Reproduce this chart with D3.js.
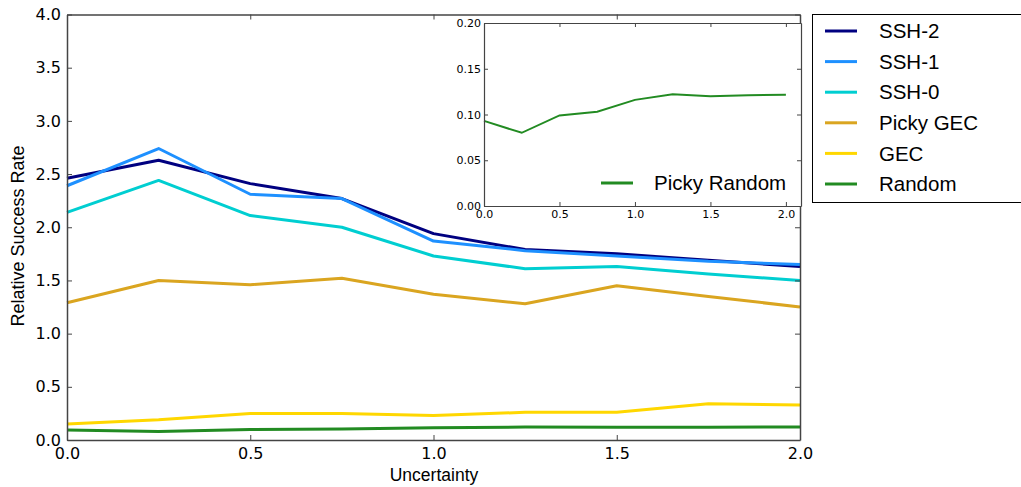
<!DOCTYPE html>
<html>
<head>
<meta charset="utf-8">
<script src="https://d3js.org/d3.v7.min.js"></script>
<style>
body { margin: 0; background: #fff; }
svg text { fill: #000; }
</style>
</head>
<body>
<div id="chart"></div>
<script>
// uncertainty levels on the x axis
var uncertainty = [0, 0.25, 0.5, 0.75, 1.0, 1.25, 1.5, 1.75, 2.0];

var ssh2 = [2.46, 2.63, 2.41, 2.27, 1.94, 1.79, 1.75, 1.69, 1.63];
var ssh1 = [2.39, 2.74, 2.31, 2.27, 1.87, 1.78, 1.73, 1.68, 1.65];
var ssh0 = [2.14, 2.44, 2.11, 2.00, 1.73, 1.61, 1.63, 1.56, 1.50];
var pickyGec = [1.29, 1.50, 1.46, 1.52, 1.37, 1.28, 1.45, 1.35, 1.25];
var gec = [0.15, 0.19, 0.25, 0.25, 0.23, 0.26, 0.26, 0.34, 0.33];
var random = [0.093, 0.081, 0.099, 0.104, 0.116, 0.122, 0.120, 0.121, 0.122];
var pickyRandom = [0.093, 0.080, 0.099, 0.103, 0.116, 0.122, 0.120, 0.121, 0.1215];

var seriesNames = ["SSH-2", "SSH-1", "SSH-0", "Picky GEC", "GEC", "Random"];
var seriesValues = [ssh2, ssh1, ssh0, pickyGec, gec, random];
var seriesColors = ["#000080", "#1e90ff", "#00ced1", "#daa520", "#ffd700", "#228b22"];

var yTicks = [0, 0.5, 1.0, 1.5, 2.0, 2.5, 3.0, 3.5, 4.0];
var xTicks = [0, 0.5, 1.0, 1.5, 2.0];
var insetYTicks = [0, 0.05, 0.10, 0.15, 0.20];

var tickFont = "'DejaVu Sans', sans-serif";
var labelFont = "'Liberation Sans', Arial, sans-serif";
var spine = "#444";

var svg = d3.select("#chart").append("svg")
    .attr("width", 1021)
    .attr("height", 487);

// main axes
var x = d3.scaleLinear().domain([0, 2.0]).range([67, 800]);
var y = d3.scaleLinear().domain([0, 4.0]).range([440, 14.5]);

var main = svg.append("g");

var line = function(vals, xs, ys) {
    return d3.line()
        .x(function(d, i) { return xs(uncertainty[i]); })
        .y(function(d) { return ys(d); })(vals);
};

main.selectAll("path.series")
    .data(seriesValues)
    .enter()
    .append("path")
    .attr("class", "series")
    .attr("d", function(d) { return line(d, x, y); })
    .attr("fill", "none")
    .attr("stroke", function(d, i) { return seriesColors[i]; })
    .attr("stroke-width", 3)
    .attr("stroke-linejoin", "round");

// inward ticks on all four sides (matplotlib classic look)
main.append("g")
    .attr("transform", "translate(0,440)")
    .call(d3.axisBottom(x).tickValues(xTicks).tickSizeInner(-5).tickSizeOuter(0).tickPadding(8).tickFormat(d3.format(".1f")))
    .call(function(g) {
        g.select(".domain").attr("stroke", spine).attr("stroke-width", 1.5);
        g.selectAll(".tick line").attr("stroke", spine);
        g.selectAll("text").attr("font-family", tickFont).attr("font-size", 16);
    });
main.append("g")
    .attr("transform", "translate(0,14.5)")
    .call(d3.axisTop(x).tickValues(xTicks).tickSizeInner(-5).tickSizeOuter(0).tickFormat(""))
    .call(function(g) {
        g.select(".domain").attr("stroke", spine).attr("stroke-width", 1.5);
        g.selectAll(".tick line").attr("stroke", spine);
    });
main.append("g")
    .attr("transform", "translate(67,0)")
    .call(d3.axisLeft(y).tickValues(yTicks).tickSizeInner(-5).tickSizeOuter(0).tickPadding(6).tickFormat(d3.format(".1f")))
    .call(function(g) {
        g.select(".domain").attr("stroke", spine).attr("stroke-width", 1.5);
        g.selectAll(".tick line").attr("stroke", spine);
        g.selectAll("text").attr("font-family", tickFont).attr("font-size", 16);
    });
main.append("g")
    .attr("transform", "translate(800,0)")
    .call(d3.axisRight(y).tickValues(yTicks).tickSizeInner(-5).tickSizeOuter(0).tickFormat(""))
    .call(function(g) {
        g.select(".domain").attr("stroke", spine).attr("stroke-width", 1.5);
        g.selectAll(".tick line").attr("stroke", spine);
    });

svg.append("text")
    .attr("x", 434)
    .attr("y", 481)
    .attr("text-anchor", "middle")
    .attr("font-family", labelFont)
    .attr("font-size", 17.5)
    .text("Uncertainty");

svg.append("text")
    .attr("transform", "translate(24,236) rotate(-90)")
    .attr("text-anchor", "middle")
    .attr("font-family", labelFont)
    .attr("font-size", 18)
    .text("Relative Success Rate");

// legend
var legend = svg.append("g");
legend.append("rect")
    .attr("x", 812.5).attr("y", 14.5)
    .attr("width", 220).attr("height", 188)
    .attr("fill", "#fff")
    .attr("stroke", "#000");
var items = legend.selectAll("g.item")
    .data(seriesNames)
    .enter()
    .append("g")
    .attr("class", "item")
    .attr("transform", function(d, i) { return "translate(0," + (31 + i * 30.6) + ")"; });
items.append("line")
    .attr("x1", 825).attr("x2", 857)
    .attr("stroke", function(d, i) { return seriesColors[i]; })
    .attr("stroke-width", 3);
items.append("text")
    .attr("x", 879)
    .attr("dy", "0.35em")
    .attr("font-family", labelFont)
    .attr("font-size", 20.5)
    .text(function(d) { return d; });

// inset
var ix = d3.scaleLinear().domain([0, 2.1]).range([484, 801]);
var iy = d3.scaleLinear().domain([0, 0.2]).range([206, 23]);
var inset = svg.append("g");

inset.append("rect")
    .attr("x", 484).attr("y", 23)
    .attr("width", 317).attr("height", 183)
    .attr("fill", "#fff");

inset.append("path")
    .attr("d", line(pickyRandom, ix, iy))
    .attr("fill", "none")
    .attr("stroke", "#228b22")
    .attr("stroke-width", 2);

inset.append("g")
    .attr("transform", "translate(0,206)")
    .call(d3.axisBottom(ix).tickValues(xTicks).tickSizeInner(-4).tickSizeOuter(0).tickPadding(4).tickFormat(d3.format(".1f")))
    .call(function(g) {
        g.select(".domain").attr("stroke", spine).attr("stroke-width", 1.2);
        g.selectAll(".tick line").attr("stroke", spine);
        g.selectAll("text").attr("font-family", tickFont).attr("font-size", 11);
    });
inset.append("g")
    .attr("transform", "translate(0,23)")
    .call(d3.axisTop(ix).tickValues(xTicks).tickSizeInner(-4).tickSizeOuter(0).tickFormat(""))
    .call(function(g) {
        g.select(".domain").attr("stroke", spine).attr("stroke-width", 1.2);
        g.selectAll(".tick line").attr("stroke", spine);
    });
inset.append("g")
    .attr("transform", "translate(484,0)")
    .call(d3.axisLeft(iy).tickValues(insetYTicks).tickSizeInner(-4).tickSizeOuter(0).tickPadding(3).tickFormat(d3.format(".2f")))
    .call(function(g) {
        g.select(".domain").attr("stroke", spine).attr("stroke-width", 1.2);
        g.selectAll(".tick line").attr("stroke", spine);
        g.selectAll("text").attr("font-family", tickFont).attr("font-size", 11);
    });
inset.append("g")
    .attr("transform", "translate(801,0)")
    .call(d3.axisRight(iy).tickValues(insetYTicks).tickSizeInner(-4).tickSizeOuter(0).tickFormat(""))
    .call(function(g) {
        g.select(".domain").attr("stroke", spine).attr("stroke-width", 1.2);
        g.selectAll(".tick line").attr("stroke", spine);
    });

inset.append("line")
    .attr("x1", 601).attr("x2", 633)
    .attr("y1", 183).attr("y2", 183)
    .attr("stroke", "#228b22")
    .attr("stroke-width", 3);
inset.append("text")
    .attr("x", 654)
    .attr("y", 183)
    .attr("dy", "0.35em")
    .attr("font-family", labelFont)
    .attr("font-size", 20.5)
    .text("Picky Random");
</script>
</body>
</html>
